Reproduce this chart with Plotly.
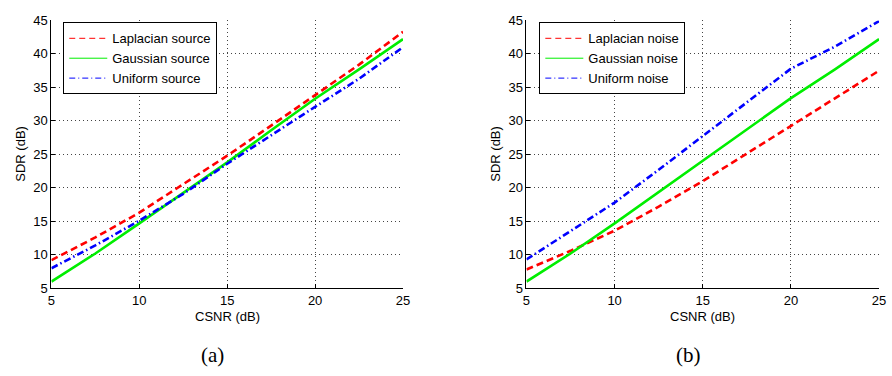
import plotly.graph_objects as go

# CSNR sample points (dB)
csnr = [5, 7.5, 10, 12.5, 15, 17.5, 20, 22.5, 25]

# (a) SDR versus CSNR for different source distributions
sdr_laplacian_source = [9.2, 12.6, 16.3, 20.5, 24.8, 29.3, 33.8, 38.4, 43.3]
sdr_gaussian_source = [6.0, 10.2, 14.7, 19.3, 23.8, 28.6, 33.3, 37.7, 42.2]
sdr_uniform_source = [8.0, 11.4, 15.1, 19.1, 23.6, 27.9, 32.1, 36.3, 41.0]

# (b) SDR versus CSNR for different noise distributions
sdr_laplacian_noise = [7.8, 10.6, 13.6, 17.2, 21.0, 25.1, 29.3, 33.4, 37.5]
sdr_gaussian_noise = [6.0, 10.2, 14.7, 19.4, 24.0, 28.8, 33.4, 37.7, 42.2]
sdr_uniform_noise = [9.3, 13.5, 17.8, 22.7, 27.7, 32.8, 37.8, 41.1, 44.9]

x_ticks = [5, 10, 15, 20, 25]
y_ticks = [5, 10, 15, 20, 25, 30, 35, 40, 45]

W, H = 892, 376
FONT = "Liberation Sans, Arial, sans-serif"

colors = {"laplacian": "#FF0000", "gaussian": "#00EE00", "uniform": "#0000FF"}
curve_dash = {"laplacian": "7px,4px", "gaussian": "solid",
              "uniform": "7px,3px,1.5px,3px"}
legend_dash = {"laplacian": "6px,4px", "gaussian": "solid",
               "uniform": "6px,3px,1px,3px"}

panels = [
    dict(xaxis="x", yaxis="y", legend="legend",
         series=[("Laplacian source", sdr_laplacian_source, "laplacian"),
                 ("Gaussian source", sdr_gaussian_source, "gaussian"),
                 ("Uniform source", sdr_uniform_source, "uniform")]),
    dict(xaxis="x2", yaxis="y2", legend="legend2",
         series=[("Laplacian noise", sdr_laplacian_noise, "laplacian"),
                 ("Gaussian noise", sdr_gaussian_noise, "gaussian"),
                 ("Uniform noise", sdr_uniform_noise, "uniform")]),
]

fig = go.Figure()
for p in panels:
    for name, vals, key in p["series"]:
        # thick data curve
        fig.add_trace(go.Scatter(
            x=csnr, y=vals, mode="lines", name=name, showlegend=False,
            xaxis=p["xaxis"], yaxis=p["yaxis"],
            line=dict(color=colors[key], width=2.6, dash=curve_dash[key]),
        ))
        # thin legend entry
        fig.add_trace(go.Scatter(
            x=[None], y=[None], mode="lines", name=name, showlegend=True,
            legend=p["legend"], xaxis=p["xaxis"], yaxis=p["yaxis"],
            line=dict(color=colors[key], width=1, dash=legend_dash[key]),
        ))


def px_x(v):
    return v / W


def px_y(v):
    return 1 - v / H


axis_common = dict(
    showline=True, linecolor="black", linewidth=1,
    ticks="inside", ticklen=4, tickcolor="black",
    showgrid=True, gridcolor="#444444", gridwidth=1, griddash="1px,3px",
    zeroline=False, tickfont=dict(family=FONT, size=13, color="black"),
)

legend_common = dict(xanchor="left", yanchor="top", bgcolor="white",
                     bordercolor="black", borderwidth=1,
                     font=dict(family=FONT, size=13, color="black"),
                     tracegroupgap=0, itemwidth=38)

y_dom = [px_y(293), px_y(14)]
fig.update_layout(
    width=W, height=H, margin=dict(l=0, r=0, t=0, b=0),
    paper_bgcolor="white", plot_bgcolor="white",
    xaxis=dict(axis_common, range=[5, 25], tickvals=x_ticks,
               domain=[px_x(48), px_x(404)], anchor="y"),
    yaxis=dict(axis_common, range=[5, 45], tickvals=y_ticks,
               domain=y_dom, anchor="x"),
    xaxis2=dict(axis_common, range=[5, 25], tickvals=x_ticks,
                domain=[px_x(529), px_x(886)], anchor="y2"),
    yaxis2=dict(axis_common, range=[5, 45], tickvals=y_ticks,
                domain=y_dom, anchor="x2"),
    legend=dict(legend_common, x=px_x(60), y=px_y(16)),
    legend2=dict(legend_common, x=px_x(542), y=px_y(16)),
)

annotations = []
for cx, sx in [(226, 17), (707, 498)]:
    annotations.append(dict(text="CSNR (dB)", x=px_x(cx), y=px_y(322),
                            xref="paper", yref="paper", showarrow=False,
                            xanchor="center", yanchor="middle",
                            font=dict(family=FONT, size=13, color="black")))
    annotations.append(dict(text="SDR (dB)", x=px_x(sx), y=px_y(153),
                            xref="paper", yref="paper", showarrow=False,
                            textangle=-90, xanchor="center", yanchor="middle",
                            font=dict(family=FONT, size=13, color="black")))
for lx, lab in [(211, "(a)"), (693, "(b)")]:
    annotations.append(dict(text=lab, x=px_x(lx), y=px_y(362), xref="paper",
                            yref="paper", showarrow=False, xanchor="center",
                            yanchor="middle",
                            font=dict(family="Liberation Serif, serif",
                                      size=21, color="black")))
fig.update_layout(annotations=annotations)

fig.write_html("out.html")
